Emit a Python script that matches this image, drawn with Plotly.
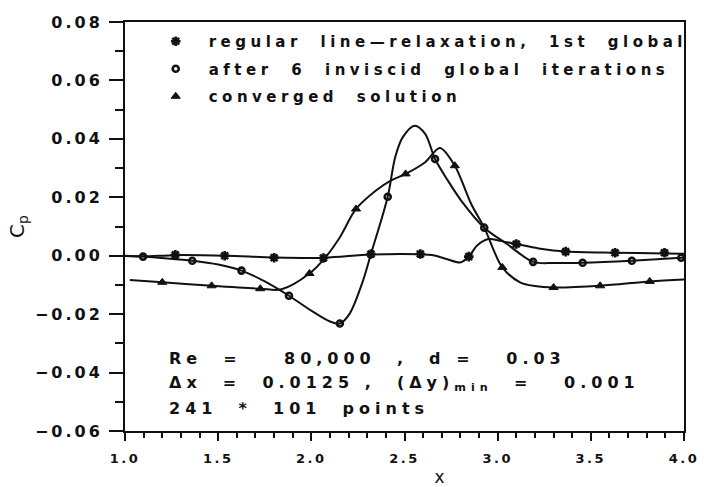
import plotly.graph_objects as go

# ---------------- data ----------------
# series 1: regular line-relaxation, 1st global  (curve + markers)
s1_x = [1.0, 1.1, 1.27, 1.54, 1.8, 2.07, 2.32, 2.58, 2.66, 2.73, 2.80, 2.845, 2.89, 2.95, 3.02, 3.10, 3.22, 3.37, 3.63, 3.9, 4.0]
s1_y = [0.0, -0.0002, 0.0002, 0.0, -0.0006, -0.0007, 0.0004, 0.0005, 0.0001, -0.0012, -0.0023, -0.0003, 0.0035, 0.0057, 0.0050, 0.0040, 0.0025, 0.0014, 0.0010, 0.0008, 0.0007]
s1_mx = [1.27, 1.535, 1.80, 2.065, 2.32, 2.585, 2.845, 3.10, 3.365, 3.63, 3.895]
s1_my = [0.0003, 0.0, -0.0007, -0.0008, 0.0006, 0.0006, -0.0003, 0.0040, 0.0014, 0.0010, 0.0010]

# series 2: after 6 inviscid global iterations
s2_x = [1.0, 1.097, 1.2, 1.361, 1.5, 1.625, 1.75, 1.88, 2.0, 2.1, 2.153, 2.205, 2.277, 2.32, 2.41, 2.45, 2.49, 2.555, 2.611, 2.664, 2.73, 2.805, 2.928, 3.05, 3.19, 3.3, 3.456, 3.72, 3.985, 4.0]
s2_y = [-0.0001, -0.0003, -0.0008, -0.0017, -0.0030, -0.0051, -0.0088, -0.0137, -0.0188, -0.0225, -0.0232, -0.0199, -0.0086, 0.0006, 0.0202, 0.0337, 0.0405, 0.0445, 0.0417, 0.0331, 0.0260, 0.0188, 0.0096, 0.0040, -0.0021, -0.0025, -0.0024, -0.0017, -0.0007, -0.0006]
s2_mx = [1.097, 1.361, 1.625, 1.88, 2.153, 2.41, 2.664, 2.928, 3.19, 3.456, 3.72, 3.985]
s2_my = [-0.0003, -0.0017, -0.0051, -0.0137, -0.0232, 0.0202, 0.0331, 0.0096, -0.0021, -0.0024, -0.0017, -0.0007]

# series 3: converged solution
s3_x = [1.026, 1.2, 1.465, 1.726, 1.84, 1.99, 2.07, 2.15, 2.24, 2.347, 2.426, 2.506, 2.611, 2.69, 2.77, 2.858, 2.928, 3.025, 3.12, 3.2, 3.3, 3.55, 3.816, 4.0]
s3_y = [-0.0083, -0.0091, -0.0103, -0.0113, -0.0115, -0.0061, -0.0010, 0.0060, 0.0160, 0.0223, 0.0257, 0.0280, 0.0320, 0.0369, 0.0308, 0.0177, 0.0096, -0.0040, -0.0091, -0.0104, -0.0109, -0.0103, -0.0088, -0.0081]
s3_mx = [1.2, 1.465, 1.726, 1.99, 2.24, 2.506, 2.77, 3.025, 3.30, 3.55, 3.816]
s3_my = [-0.0091, -0.0103, -0.0113, -0.0061, 0.0160, 0.0280, 0.0308, -0.0040, -0.0109, -0.0103, -0.0088]

names = ["regular line\u2014relaxation, 1st global",
         "after 6 inviscid global iterations",
         "converged solution"]

x_range = [1.0, 4.0]
y_range = [-0.06, 0.08]

S = "\u00a0"
info_lines = ["Re" + S*2 + "=" + S*4 + "80,000" + S*2 + "," + S*2 + "d" + S + "=" + S*3 + "0.03",
              "\u0394x" + S*2 + "=" + S*2 + "0.0125" + S + "," + S*2 + "(\u0394y)<sub>min</sub>" + S*2 + "=" + S*3 + "0.001",
              "241" + S*2 + "*" + S*2 + "101" + S*2 + "points"]

FONT = "DejaVu Sans"
INK = "#111111"

fig = go.Figure()

curves = [(s1_x, s1_y), (s2_x, s2_y), (s3_x, s3_y)]
marks = [(s1_mx, s1_my, "asterisk-open", 8, 2.6),
         (s2_mx, s2_my, "circle-open", 6, 2.6),
         (s3_mx, s3_my, "triangle-up", 8, 1)]

for (cx, cy) in curves:
    fig.add_trace(go.Scatter(x=cx, y=cy, mode="lines", showlegend=False,
                             line=dict(color=INK, width=2, shape="spline", smoothing=0.9),
                             hoverinfo="skip"))

for i, ((mx, my, sym, sz, lw), nm) in enumerate(zip(marks, names)):
    fig.add_trace(go.Scatter(x=mx, y=my, mode="markers", name=nm,
                             legendgroup=str(i),
                             marker=dict(symbol=sym, size=sz, color=INK,
                                         line=dict(color=INK, width=lw))))

for i, t in enumerate(info_lines):
    fig.add_annotation(xref="paper", yref="paper", x=(168 - 125) / 568,
                       y=(431 - [358, 383, 408][i]) / 409,
                       xanchor="left", yanchor="middle", align="left",
                       text=t, showarrow=False,
                       font=dict(family=FONT, size=16, color=INK, weight="bold"))

fig.add_annotation(xref="paper", yref="paper", x=(447 - 125) / 568, y=(431 - 477) / 409,
                   xanchor="center", yanchor="middle", text="x", showarrow=False,
                   font=dict(family=FONT, size=17, color=INK, weight="normal"))

fig.update_layout(
    width=708, height=487, autosize=False,
    margin=dict(l=125, r=15, t=22, b=56),
    paper_bgcolor="white", plot_bgcolor="white",
    font=dict(family=FONT, color=INK, size=14),
    showlegend=True,
    legend=dict(x=(143 - 125) / 568, y=(431 - 25) / 409, xanchor="left", yanchor="top",
                bgcolor="rgba(0,0,0,0)", borderwidth=0, itemwidth=56,
                tracegroupgap=5,
                font=dict(family=FONT, size=15, color=INK, weight="bold")),
)

fig.update_xaxes(range=x_range, dtick=0.5, tick0=1.0, tickformat=".1f",
                 showline=True, linewidth=2, linecolor=INK, mirror=True,
                 ticks="outside", ticklen=8, tickwidth=2, tickcolor=INK,
                 minor=dict(dtick=0.1, ticks="outside", ticklen=5, tickwidth=1.5, tickcolor=INK),
                 showgrid=False, zeroline=False,
                 tickfont=dict(family=FONT, size=13, color=INK, weight="bold"),
                 ticklabelstandoff=6)

fig.update_yaxes(range=y_range, dtick=0.02, tick0=0, tickformat=".2f",
                 showline=True, linewidth=2, linecolor=INK, mirror=True,
                 ticks="outside", ticklen=14, tickwidth=2, tickcolor=INK,
                 minor=dict(dtick=0.01, ticks="outside", ticklen=8, tickwidth=2, tickcolor=INK),
                 showgrid=False, zeroline=False,
                 tickfont=dict(family=FONT, size=16, color=INK, weight="bold"),
                 ticklabelstandoff=3,
                 title=dict(text="C<sub>p</sub>", standoff=20,
                            font=dict(family=FONT, size=20, color=INK, weight="normal")))

post = """
var gd = document.getElementById('{plot_id}');
function spacing(){
  gd.querySelectorAll('.legend .scrollbox').forEach(function(e){e.removeAttribute('clip-path');});
  gd.querySelectorAll('.legendtext').forEach(function(t){t.style.letterSpacing='4.5px'; t.style.wordSpacing='9px';});
  gd.querySelectorAll('.annotation-text').forEach(function(t){t.style.letterSpacing='5px';});
  gd.querySelectorAll('.xtick text').forEach(function(t){t.style.letterSpacing='2.5px';});
  gd.querySelectorAll('.ytick text').forEach(function(t){t.style.letterSpacing='3px';});
}
spacing();
"""

fig.write_html("out.html", post_script=post)
